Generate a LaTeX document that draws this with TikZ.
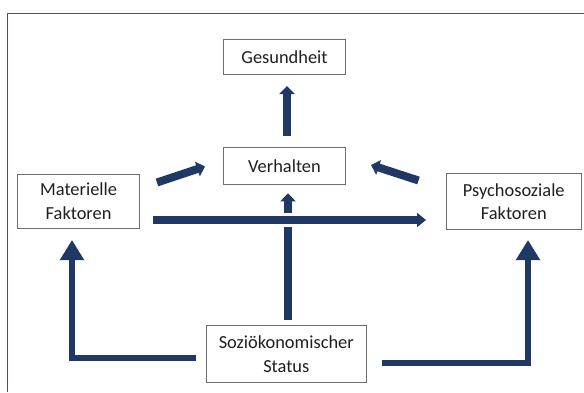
\documentclass[tikz,border=0pt]{standalone}
\usepackage{fontspec}
\setmainfont{Carlito}
\usetikzlibrary{arrows.meta}
\definecolor{navy}{RGB}{31,56,100}
\definecolor{boxgray}{RGB}{110,110,110}
\definecolor{framec}{RGB}{72,80,104}
\begin{document}
\begin{tikzpicture}[x=1pt,y=-1pt,
  box/.style={draw=boxgray, line width=0.8pt, fill=white, inner sep=0pt, align=center,
    font=\fontsize{18.4}{23.2}\selectfont, text=black!88},
  arr/.style={draw=navy, line width=8pt, -{Triangle[length=8pt,width=15pt]}},
  arrh/.style={draw=navy, line width=8pt, -{Triangle[length=9pt,width=14pt]}},
  elb/.style={draw=navy, line width=6pt, line join=miter, -{Triangle[length=20pt,width=23pt]}}]
\useasboundingbox (0,0) rectangle (584,392);
\draw[framec, line width=1pt] (7.3,392) -- (7.3,13.3) -- (584,13.3);

\node[box, minimum width=122.4pt, minimum height=34.7pt] (G) at (284.5,56.7) {Gesundheit};
\node[box, minimum width=122.4pt, minimum height=37pt] (V) at (284.5,165.8) {Verhalten};
\node[box, minimum width=122.2pt, minimum height=54.3pt] (M) at (78.6,201.2) {Materielle\\Faktoren};
\node[box, minimum width=135pt, minimum height=56pt] (P) at (513.8,201.3) {Psychosoziale\\Faktoren};
\node[box, minimum width=159.3pt, minimum height=57pt] (S) at (286.3,354.2) {Soziökonomischer\\Status};

% arrow end points
\coordinate (vgA) at (287,135.7);   \coordinate (vgB) at (287,86);
\coordinate (svA) at (288,320);     \coordinate (svB) at (288,193.3);
\coordinate (mvA) at (157,182.5);   \coordinate (mvB) at (205,166.5);
\coordinate (pvA) at (418.5,180.5); \coordinate (pvB) at (371,165);
\coordinate (mpA) at (153.3,220);   \coordinate (mpB) at (426,220);
\coordinate (smA) at (195.7,358);   \coordinate (smK) at (72,358);   \coordinate (smB) at (72,240);
\coordinate (spA) at (382.3,363);   \coordinate (spK) at (528,363);  \coordinate (spB) at (528,240);
\coordinate (gapA) at (279,220);    \coordinate (gapB) at (297,220);

\draw[arr] (vgA) -- (vgB);
\draw[arr] (svA) -- (svB);
\draw[white, line width=14pt] (gapA) -- (gapB);
\draw[arrh] (mpA) -- (mpB);
\draw[arr] (mvA) -- (mvB);
\draw[arr] (pvA) -- (pvB);
\draw[elb] (smA) -- (smK) -- (smB);
\draw[elb] (spA) -- (spK) -- (spB);
\end{tikzpicture}
\end{document}
